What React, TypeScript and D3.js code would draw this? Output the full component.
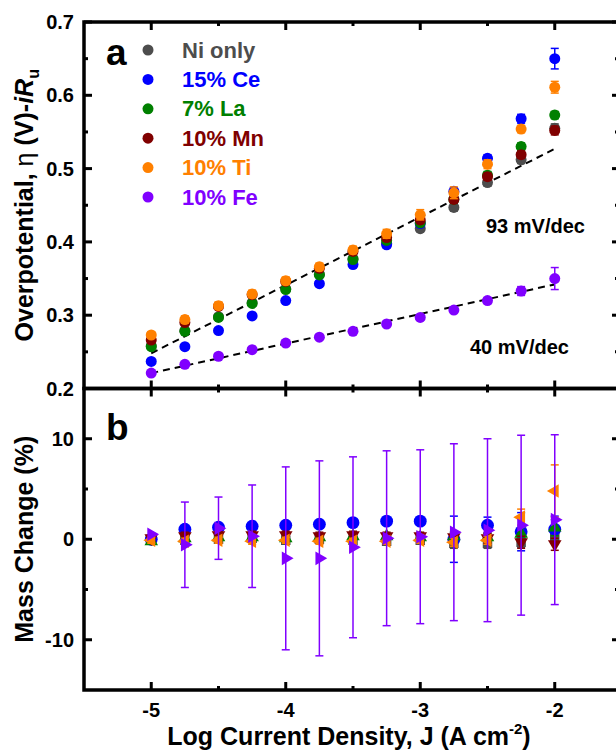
import React, { useEffect, useRef } from 'react';
import * as d3 from 'd3';

// log current density, J (A cm-2)
const logJ = [-5, -4.75, -4.5, -4.25, -4, -3.75, -3.5, -3.25, -3, -2.75, -2.5, -2.25, -2];

const seriesNames = ['Ni only', '15% Ce', '7% La', '10% Mn', '10% Ti', '10% Fe'];
const seriesColors = ['#4d4d4d', '#0000ff', '#008000', '#800000', '#ff8000', '#8000ff'];

// panel a: overpotential (V)
const etaNi = [0.258, 0.279, 0.298, 0.317, 0.336, 0.356, 0.377, 0.398, 0.418, 0.447, 0.481, 0.512, 0.555];
const etaCe = [0.237, 0.257, 0.279, 0.299, 0.32, 0.343, 0.369, 0.396, 0.425, 0.469, 0.514, 0.568, 0.65];
const etaLa = [0.257, 0.278, 0.297, 0.316, 0.335, 0.355, 0.376, 0.402, 0.426, 0.458, 0.491, 0.53, 0.573];
const etaMn = [0.266, 0.29, 0.312, 0.328, 0.346, 0.364, 0.387, 0.406, 0.43, 0.458, 0.489, 0.519, 0.552];
const etaTi = [0.273, 0.294, 0.313, 0.329, 0.347, 0.366, 0.389, 0.411, 0.437, 0.467, 0.506, 0.554, 0.611];
const etaFe = [0.221, 0.233, 0.244, 0.253, 0.262, 0.27, 0.278, 0.288, 0.297, 0.307, 0.32, 0.333, 0.35];

const etaErrNi = [0.003, 0.003, 0.003, 0.003, 0.003, 0.003, 0.004, 0.004, 0.004, 0.005, 0.005, 0.005, 0.006];
const etaErrCe = [0.003, 0.003, 0.003, 0.003, 0.003, 0.003, 0.004, 0.004, 0.005, 0.005, 0.005, 0.006, 0.014];
const etaErrLa = [0.003, 0.003, 0.003, 0.003, 0.003, 0.003, 0.004, 0.004, 0.004, 0.004, 0.005, 0.005, 0.005];
const etaErrMn = [0.004, 0.004, 0.004, 0.004, 0.004, 0.004, 0.004, 0.005, 0.005, 0.005, 0.005, 0.005, 0.006];
const etaErrTi = [0.004, 0.005, 0.005, 0.005, 0.005, 0.005, 0.005, 0.006, 0.007, 0.008, 0.006, 0.005, 0.008];
const etaErrFe = [0.002, 0.002, 0.002, 0.002, 0.002, 0.002, 0.003, 0.003, 0.003, 0.003, 0.004, 0.006, 0.015];

// dashed Tafel fits
const fitJ = [-5, -2];
const fitUpper = [0.248, 0.527];
const fitLower = [0.221, 0.342];

// panel b: mass change (%)
const massNi = [0.0, -0.1, 0.0, 0.1, -0.1, 0.0, -0.1, -0.2, -0.1, -0.4, -0.4, -0.3, 0.3];
const massCe = [0.0, 1.0, 1.2, 1.3, 1.4, 1.5, 1.65, 1.8, 1.8, 0.0, 1.4, 0.75, 1.0];
const massLa = [-0.2, 0.1, 0.2, 0.2, 0.1, 0.2, 0.3, 0.3, 0.2, 0.3, 0.2, 0.55, 1.15];
const massMn = [0.1, 0.3, 0.4, 0.4, 0.4, 0.3, 0.4, 0.3, 0.3, 0.2, 0.1, -0.3, -0.5];
const massTi = [-0.1, -0.2, -0.1, -0.2, -0.1, -0.2, -0.2, -0.2, -0.1, -0.3, -0.1, 2.2, 4.8];
const massFe = [0.5, -0.55, 1.1, 0.3, -1.9, -1.9, -0.8, 0.1, 0.25, 0.7, 0.9, 1.4, 1.95];

const massErrNi = [0.3, 0.4, 0.4, 0.4, 0.4, 0.4, 0.4, 0.4, 0.4, 0.5, 0.5, 0.5, 0.6];
const massErrCe = [0.2, 0.3, 0.3, 0.3, 0.3, 0.3, 0.3, 0.3, 0.3, 2.3, 0.8, 1.9, 1.3];
const massErrLa = [0.3, 0.3, 0.3, 0.3, 0.3, 0.3, 0.3, 0.3, 0.3, 0.4, 0.4, 0.6, 0.8];
const massErrMn = [0.3, 0.4, 0.4, 0.4, 0.4, 0.4, 0.4, 0.4, 0.4, 0.5, 0.5, 0.6, 0.6];
const massErrTi = [0.3, 0.3, 0.3, 0.3, 0.3, 0.3, 0.3, 0.3, 0.3, 0.4, 0.4, 0.8, 2.6];
const massErrFe = [0, 4.25, 3.1, 5.1, 9.1, 9.7, 9.0, 8.7, 8.65, 8.8, 9.1, 8.95, 8.45];

const xMajor = [-5, -4, -3, -2];
const xMinor = [-4.5, -3.5, -2.5];
const etaMajor = [0.2, 0.3, 0.4, 0.5, 0.6, 0.7];
const etaMinor = [0.25, 0.35, 0.45, 0.55, 0.65];
const massMajor = [-10, 0, 10];
const massMinor = [-5, 5];

const App = () => {
  const svgRef = useRef<SVGSVGElement>(null);

  useEffect(() => {
    const svg = d3.select(svgRef.current);
    svg.selectAll('*').remove();

    const font = 'Arial, "Liberation Sans", Helvetica, sans-serif';
    const x = d3.scaleLinear().domain([-5.5, -1.5]).range([84, 622]);
    const yA = d3.scaleLinear().domain([0.2, 0.7]).range([388.5, 22]);
    const yB = d3.scaleLinear().domain([-15, 15]).range([690, 388.5]);

    const etaData = [etaNi, etaCe, etaLa, etaMn, etaTi, etaFe];
    const etaErr = [etaErrNi, etaErrCe, etaErrLa, etaErrMn, etaErrTi, etaErrFe];
    const massData = [massNi, massCe, massLa, massMn, massTi, massFe];
    const massErr = [massErrNi, massErrCe, massErrLa, massErrMn, massErrTi, massErrFe];

    // frames + ticks
    const drawFrame = (y, major, minor, fmt) => {
      const [y0, y1] = y.range(); // bottom, top
      const [x0, x1] = x.range();
      const g = svg.append('g');
      g.append('rect')
        .attr('x', x0).attr('y', y1)
        .attr('width', x1 - x0).attr('height', y0 - y1)
        .attr('fill', 'none').attr('stroke', '#000').attr('stroke-width', 3.5);

      const tick = (x1_, y1_, x2_, y2_) => g.append('line')
        .attr('x1', x1_).attr('y1', y1_).attr('x2', x2_).attr('y2', y2_)
        .attr('stroke', '#000').attr('stroke-width', 3);

      xMajor.forEach(v => { tick(x(v), y0, x(v), y0 - 8); tick(x(v), y1, x(v), y1 + 8); });
      xMinor.forEach(v => { tick(x(v), y0, x(v), y0 - 4); tick(x(v), y1, x(v), y1 + 4); });
      major.forEach(v => { tick(x0, y(v), x0 + 8, y(v)); tick(x1, y(v), x1 - 10, y(v)); });
      minor.forEach(v => { tick(x0, y(v), x0 + 4, y(v)); tick(x1, y(v), x1 - 7, y(v)); });

      g.selectAll('.ylab').data(major).enter().append('text')
        .attr('x', x0 - 10).attr('y', d => y(d))
        .attr('text-anchor', 'end').attr('dominant-baseline', 'central')
        .style('font-family', font).style('font-weight', 'bold').style('font-size', '20px')
        .text(fmt);
    };

    drawFrame(yA, etaMajor, etaMinor, d => d.toFixed(1));
    drawFrame(yB, massMajor, massMinor, d => String(d));

    // x tick labels (plain hyphen minus, as in the figure)
    svg.selectAll('.xlab').data(xMajor).enter().append('text')
      .attr('x', d => x(d)).attr('y', 717)
      .attr('text-anchor', 'middle')
      .style('font-family', font).style('font-weight', 'bold').style('font-size', '20px')
      .text(d => String(d));

    // axis titles
    const xt = svg.append('text')
      .attr('x', (x.range()[0] + x.range()[1]) / 2 - 4).attr('y', 745)
      .attr('text-anchor', 'middle')
      .style('font-family', font).style('font-weight', 'bold').style('font-size', '25px');
    xt.append('tspan').text('Log Current Density, J (A cm');
    xt.append('tspan').attr('dy', -11).style('font-size', '15px').text('-2');
    xt.append('tspan').attr('dy', 11).text(')');

    const yt = svg.append('text')
      .attr('transform', `translate(33,${(yA.range()[0] + yA.range()[1]) / 2}) rotate(-90)`)
      .attr('text-anchor', 'middle')
      .style('font-family', font).style('font-weight', 'bold').style('font-size', '25px');
    yt.append('tspan').text('Overpotential, ');
    yt.append('tspan').style('font-weight', 'normal').text('η');
    yt.append('tspan').text(' (V)-');
    yt.append('tspan').style('font-style', 'italic').text('iR');
    yt.append('tspan').attr('dy', 6).style('font-size', '16px').text('u');

    svg.append('text')
      .attr('transform', `translate(33,${(yB.range()[0] + yB.range()[1]) / 2}) rotate(-90)`)
      .attr('text-anchor', 'middle')
      .style('font-family', font).style('font-weight', 'bold').style('font-size', '25px')
      .text('Mass Change (%)');

    // panel letters
    [['a', 65], ['b', 440]].forEach(([t, yy]) => {
      svg.append('text').attr('x', 106).attr('y', yy)
        .style('font-family', font).style('font-weight', 'bold').style('font-size', '37px')
        .text(t);
    });

    // fit lines
    const fitLine = d3.line<number>().x((d, i) => x(fitJ[i])).y(d => yA(d));
    [fitUpper, fitLower].forEach(f => {
      svg.append('path').attr('d', fitLine(f))
        .attr('fill', 'none').attr('stroke', '#000')
        .attr('stroke-width', 2).attr('stroke-dasharray', '7,5');
    });

    // panel a points
    etaData.forEach((vals, s) => {
      const g = svg.append('g');
      const c = seriesColors[s];
      vals.forEach((v, i) => {
        const cx = x(logJ[i]);
        const e = etaErr[s][i];
        g.append('line').attr('x1', cx).attr('x2', cx)
          .attr('y1', yA(v - e)).attr('y2', yA(v + e))
          .attr('stroke', c).attr('stroke-width', 1.5);
        [v - e, v + e].forEach(w => g.append('line')
          .attr('x1', cx - 4).attr('x2', cx + 4).attr('y1', yA(w)).attr('y2', yA(w))
          .attr('stroke', c).attr('stroke-width', 1.5));
      });
      g.selectAll('circle').data(vals).enter().append('circle')
        .attr('cx', (d, i) => x(logJ[i])).attr('cy', d => yA(d))
        .attr('r', 5.5).attr('fill', c);
    });

    // panel b points
    const shapes = [
      { type: d3.symbolSquare, size: 90, rot: 0 },
      { type: d3.symbolCircle, size: 130, rot: 0 },
      { type: d3.symbolTriangle, size: 80, rot: 0 },
      { type: d3.symbolTriangle, size: 80, rot: 180 },
      { type: d3.symbolTriangle, size: 80, rot: -90 },
      { type: d3.symbolTriangle, size: 80, rot: 90 },
    ];
    massData.forEach((vals, s) => {
      const g = svg.append('g');
      const c = seriesColors[s];
      vals.forEach((v, i) => {
        const cx = x(logJ[i]);
        const e = massErr[s][i];
        if (e > 0) {
          g.append('line').attr('x1', cx).attr('x2', cx)
            .attr('y1', yB(v - e)).attr('y2', yB(v + e))
            .attr('stroke', c).attr('stroke-width', 1.5);
          [v - e, v + e].forEach(w => g.append('line')
            .attr('x1', cx - 4).attr('x2', cx + 4).attr('y1', yB(w)).attr('y2', yB(w))
            .attr('stroke', c).attr('stroke-width', 1.5));
        }
      });
      const sym = d3.symbol().type(shapes[s].type).size(shapes[s].size);
      g.selectAll('path.m').data(vals).enter().append('path')
        .attr('class', 'm')
        .attr('d', sym())
        .attr('transform', (d, i) => `translate(${x(logJ[i])},${yB(d)}) rotate(${shapes[s].rot})`)
        .attr('fill', c);
    });

    // legend (panel a)
    const lg = svg.append('g');
    seriesNames.forEach((name, i) => {
      const ly = 50 + i * 29.4;
      lg.append('circle').attr('cx', 148).attr('cy', ly).attr('r', 5.5).attr('fill', seriesColors[i]);
      lg.append('text').attr('x', 182).attr('y', ly).attr('dominant-baseline', 'central')
        .attr('fill', seriesColors[i])
        .style('font-family', font).style('font-weight', 'bold').style('font-size', '22px')
        .text(name);
    });

    // slope labels
    [['93 mV/dec', 486, 233], ['40 mV/dec', 470, 354]].forEach(([t, lx, ly]) => {
      svg.append('text').attr('x', lx).attr('y', ly)
        .style('font-family', font).style('font-weight', 'bold').style('font-size', '20px')
        .text(t);
    });
  }, []);

  return (
    <svg ref={svgRef} width={616} height={753}
      style={{ position: 'absolute', left: 0, top: 0, background: '#fff' }} />
  );
};

export default App;
